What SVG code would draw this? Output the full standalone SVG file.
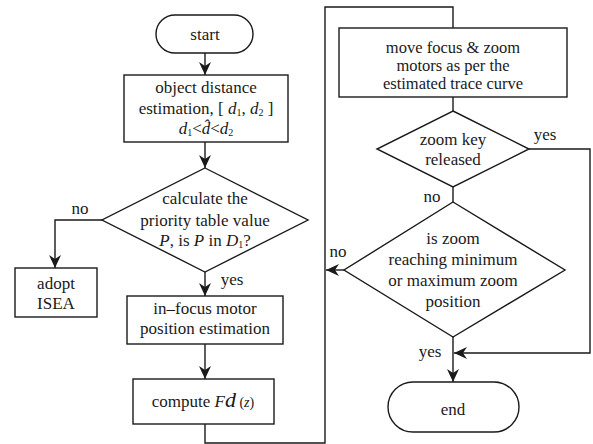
<svg xmlns="http://www.w3.org/2000/svg" width="593" height="444" viewBox="0 0 593 444">
  <style>
    .shape { fill: #ffffff; stroke: #1a1a1a; stroke-width: 1.4; }
    .link { fill: none; stroke: #1a1a1a; stroke-width: 1.4; }
    text { font-family: "Liberation Serif", "DejaVu Serif", serif; font-size: 17px; fill: #1a1a1a; text-anchor: middle; }
    .it { font-style: italic; }
    .sub { font-size: 10px; }
    .tight { font-size: 16.5px; }
  </style>
  <defs>
    <marker id="arrow" markerUnits="userSpaceOnUse" markerWidth="14" markerHeight="12" viewBox="0 0 14 12" refX="13" refY="6" orient="auto">
      <path d="M0,0 L13,6 L0,12 L4,6 Z" fill="#1a1a1a"/>
    </marker>
  </defs>
  <rect width="593" height="444" fill="#ffffff"/>

  <!-- connectors -->
  <g id="connectors">
    <path class="link" d="M205,53 V75" marker-end="url(#arrow)"/>
    <path class="link" d="M205,142 V168" marker-end="url(#arrow)"/>
    <path class="link" d="M102,220 H55 V268" marker-end="url(#arrow)"/>
    <path class="link" d="M205,272 V296" marker-end="url(#arrow)"/>
    <path class="link" d="M205,344 V379" marker-end="url(#arrow)"/>
    <path class="link" d="M205,424 V443 H325 V7 H453 V28"/>
    <path class="link" d="M453,97 V111"/>
    <path class="link" d="M453,187 V202"/>
    <path class="link" d="M529,149 H590 V353 H454" marker-end="url(#arrow)"/>
    <path class="link" d="M344,270 H326" marker-end="url(#arrow)"/>
    <path class="link" d="M453,337 V382" marker-end="url(#arrow)"/>
    <text x="80" y="214">no</text>
    <text x="232" y="285">yes</text>
    <text x="545" y="140">yes</text>
    <text x="432" y="202">no</text>
    <text x="338" y="257">no</text>
    <text x="430" y="357">yes</text>
  </g>

  <g id="start">
    <rect class="shape" x="156" y="15" width="97" height="38" rx="19" ry="19"/>
    <text x="205" y="40">start</text>
  </g>

  <g id="estimate-distance">
    <rect class="shape" x="124" y="75" width="164" height="67"/>
    <text x="206" y="93">object distance</text>
    <text x="206" y="114">estimation, [ <tspan class="it">d</tspan><tspan class="sub" dy="2">1</tspan><tspan dy="-2">, </tspan><tspan class="it">d</tspan><tspan class="sub" dy="2">2</tspan><tspan dy="-2"> ]</tspan></text>
    <text x="206" y="134"><tspan class="it">d</tspan><tspan class="sub" dy="2">1</tspan><tspan dy="-2">&lt;</tspan><tspan class="it">d&#x302;</tspan><tspan>&lt;</tspan><tspan class="it">d</tspan><tspan class="sub" dy="2">2</tspan></text>
  </g>

  <g id="priority-check">
    <polygon class="shape" points="205,168 308,220 205,272 102,220"/>
    <text x="205" y="204">calculate the</text>
    <text x="205" y="226">priority table value</text>
    <text x="205" y="246"><tspan class="it">P</tspan>, is <tspan class="it">P</tspan> in <tspan class="it">D</tspan><tspan class="sub" dy="2">1</tspan><tspan dy="-2">?</tspan></text>
  </g>

  <g id="adopt-isea">
    <rect class="shape" x="15" y="268" width="82" height="49"/>
    <text x="56" y="289">adopt</text>
    <text x="56" y="309">ISEA</text>
  </g>

  <g id="motor-position">
    <rect class="shape" x="127" y="296" width="156" height="48"/>
    <text x="205" y="314">in–focus motor</text>
    <text x="205" y="334">position estimation</text>
  </g>

  <g id="compute-fd">
    <rect class="shape" x="133" y="379" width="141" height="45"/>
    <text x="203" y="407">compute <tspan class="it">F</tspan><tspan class="it" style="font-size:22px">d</tspan><tspan style="font-size:14px"> (<tspan class="it">z</tspan>)</tspan></text>
  </g>

  <g id="move-motors">
    <rect class="shape" x="339" y="28" width="228" height="69"/>
    <text class="tight" x="453" y="53">move focus &amp; zoom</text>
    <text class="tight" x="453" y="71">motors as per the</text>
    <text class="tight" x="453" y="89">estimated trace curve</text>
  </g>

  <g id="key-released">
    <polygon class="shape" points="453,111 529,149 453,187 377,149"/>
    <text x="453" y="145">zoom key</text>
    <text x="453" y="165">released</text>
  </g>

  <g id="zoom-limit">
    <polygon class="shape" points="453,202 565,270 453,337 344,270"/>
    <text x="453" y="244">is zoom</text>
    <text x="453" y="265">reaching minimum</text>
    <text x="453" y="286">or maximum zoom</text>
    <text x="453" y="307">position</text>
  </g>

  <g id="end">
    <rect class="shape" x="388" y="382" width="131" height="50" rx="25" ry="25"/>
    <text x="453" y="415">end</text>
  </g>
</svg>
